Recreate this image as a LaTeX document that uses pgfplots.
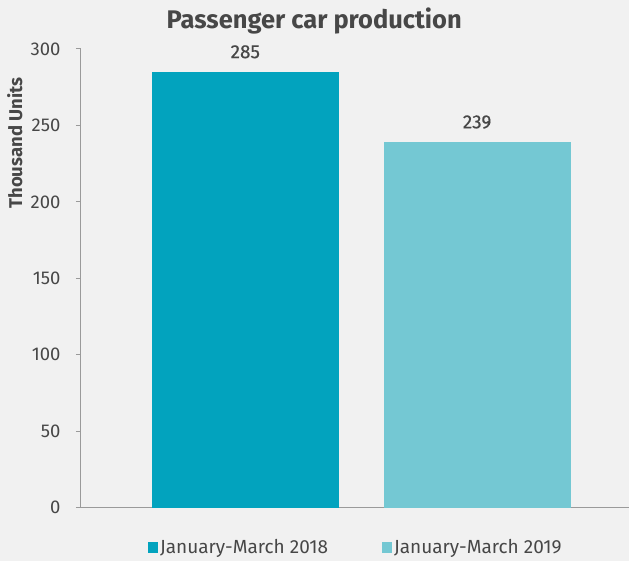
\documentclass[border=0pt]{standalone}
\usepackage{pgfplots}
\pgfplotsset{compat=1.18}
\usepackage{fontspec}
\setmainfont{Fira Sans}
\usetikzlibrary{backgrounds}
\definecolor{bg}{HTML}{F1F1F1}
\definecolor{darkteal}{HTML}{02A3BE}
\definecolor{lightteal}{HTML}{74C8D3}
\definecolor{txt}{HTML}{474747}
\definecolor{axisgray}{HTML}{9A9A9A}
\begin{document}
\begin{tikzpicture}
\begin{axis}[
  scale only axis,
  width=548pt, height=459pt,
  xmin=-0.709, xmax=1.653,
  ymin=0, ymax=300,
  ytick={0,50,100,150,200,250,300},
  xtick=\empty,
  axis x line=bottom, axis y line=left,
  axis line style={axisgray, line width=1pt, -},
  y tick style={axisgray, line width=1pt},
  tick align=outside,
  major tick length=5pt,
  ticklabel style={font=\fontsize{18.5}{22}\selectfont, text=txt},
  yticklabel style={xshift=-12pt},
  /pgf/number format/assume math mode=true,
  ylabel={\textbf{Thousand Units}},
  ylabel style={font=\fontsize{18.5}{22}\selectfont, text=txt, at={(axis description cs:-0.121,0.795)}, anchor=center, rotate=0},
  title={\textbf{Passenger car production}},
  title style={font=\fontsize{25.5}{30}\selectfont, text=txt, at={(axis description cs:0.426,1.048)}, anchor=center},
  ybar, bar width=187pt,
  nodes near coords,
  nodes near coords style={font=\fontsize{19}{22}\selectfont\addfontfeatures{FakeBold=0.4}, text=txt, yshift=10pt},
  legend style={draw=none, fill=none, at={(axis description cs:0.502,-0.086)}, anchor=center, font=\fontsize{19}{22}\selectfont, text=txt, legend columns=2, /tikz/every even column/.append style={column sep=52pt}},
  legend image code/.code={\fill[#1] (0pt,-5.5pt) rectangle (10pt,5.5pt);},
  clip=false,
]
\addplot[fill=darkteal, draw=none, bar shift=0pt] coordinates {(0,285)};
\addlegendentry{January-March 2018}
\addplot[fill=lightteal, draw=none, bar shift=0pt] coordinates {(1,239)};
\addlegendentry{January-March 2019}
\coordinate (bl) at (rel axis cs:-0.1478,-0.1155);
\coordinate (tr) at (rel axis cs:1,1.1068);
\end{axis}
\begin{pgfonlayer}{background}
\fill[bg] (bl) rectangle (tr);
\end{pgfonlayer}
\end{tikzpicture}
\end{document}
